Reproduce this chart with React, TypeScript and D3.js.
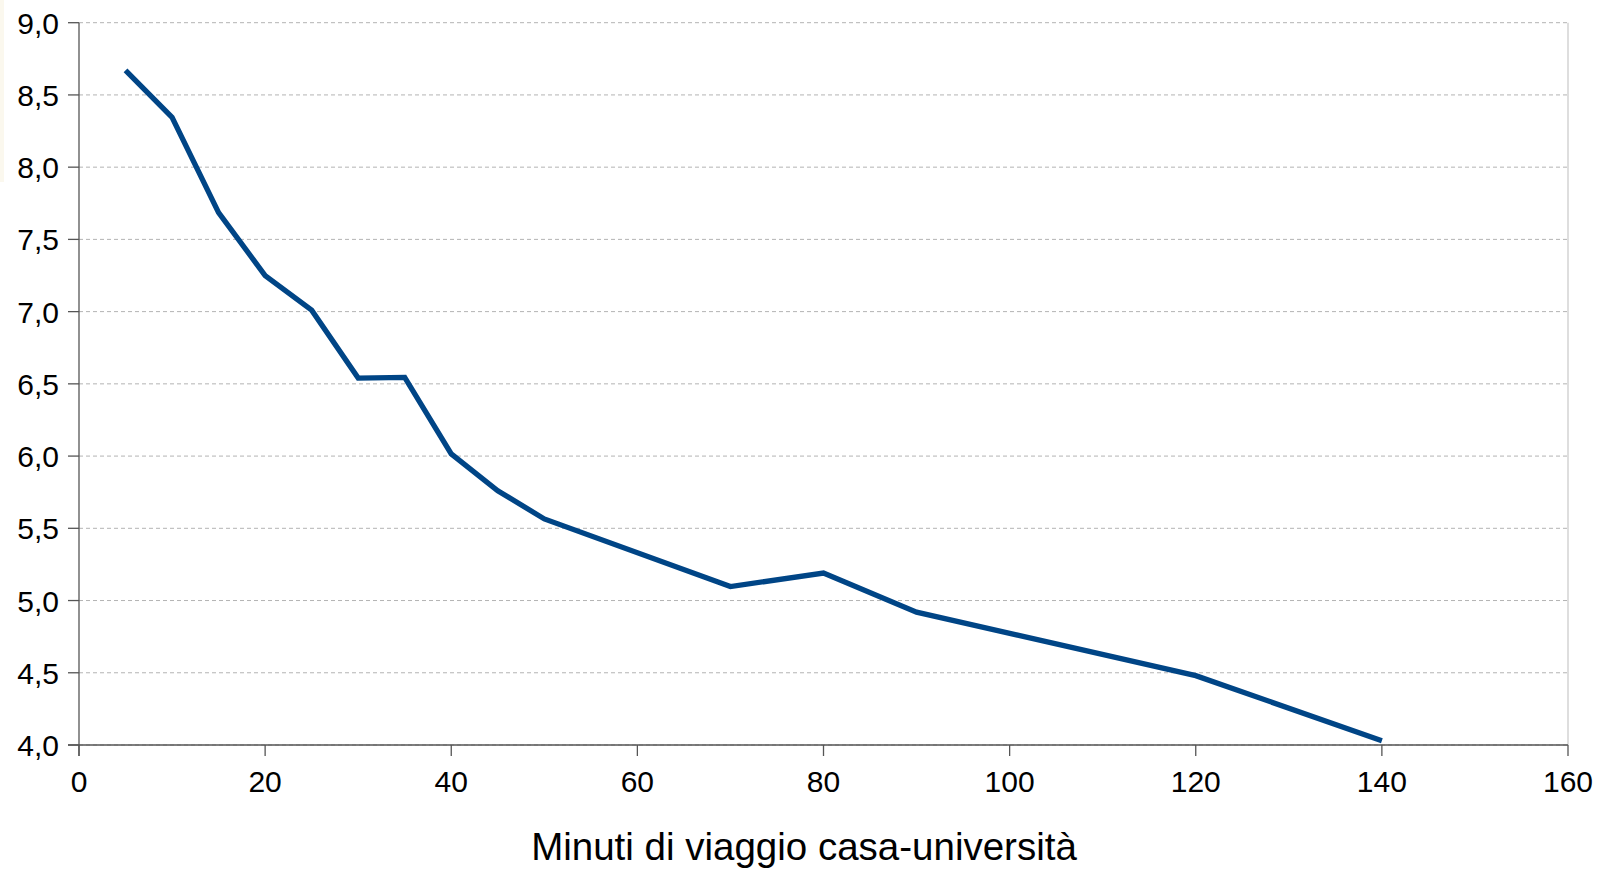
import React from "react";
import * as d3 from "d3";

const minutes = [5, 10, 15, 20, 25, 30, 35, 40, 45, 50, 70, 80, 90, 120, 140];
const values = [8.67, 8.345, 7.685, 7.25, 7.01, 6.54, 6.545, 6.015, 5.76, 5.565, 5.097, 5.19, 4.92, 4.48, 4.03];
const xTicks = [0, 20, 40, 60, 80, 100, 120, 140, 160];
const yTicks = [4, 4.5, 5, 5.5, 6, 6.5, 7, 7.5, 8, 8.5, 9];
const xTitle = "Minuti di viaggio casa-università";

const W = 1600;
const H = 870;
const left = 79;
const right = 1568;
const top = 22.7;
const bottom = 745;
const FONT = "'Liberation Sans', Arial, sans-serif";

export default function App() {
  const x = d3.scaleLinear().domain([0, 160]).range([left, right]);
  const y = d3.scaleLinear().domain([4, 9]).range([bottom, top]);
  const line = d3
    .line<number>()
    .x((_, i) => x(minutes[i]))
    .y((d) => y(d));
  const fmt = (v: number) => v.toFixed(1).replace(".", ",");

  return (
    <svg
      width={W}
      height={H}
      style={{ position: "absolute", left: 0, top: 0, display: "block", background: "#fff" }}
      fontFamily={FONT}
    >
      <rect x={0} y={0} width={W} height={H} fill="#ffffff" />
      <rect x={0} y={0} width={4} height={182} fill="#fbf8ee" />
      {yTicks.map((t) => (
        <line
          key={"g" + t}
          x1={left}
          x2={right}
          y1={y(t)}
          y2={y(t)}
          stroke="#b3b3b3"
          strokeWidth={1}
          strokeDasharray="4,3"
        />
      ))}
      <line x1={right} x2={right} y1={top} y2={bottom} stroke="#c8c8c8" strokeWidth={1.2} />
      {/* axes */}
      <line x1={left} x2={left} y1={top} y2={bottom + 11} stroke="#555" strokeWidth={1.3} />
      <line x1={left - 11} x2={right} y1={bottom} y2={bottom} stroke="#555" strokeWidth={1.3} />
      {yTicks.map((t) => (
        <g key={"y" + t}>
          <line x1={left - 11} x2={left} y1={y(t)} y2={y(t)} stroke="#555" strokeWidth={1.3} />
          <text x={left - 20} y={y(t) + 11} textAnchor="end" fontSize={30} fill="#000">
            {fmt(t)}
          </text>
        </g>
      ))}
      {xTicks.map((t) => (
        <g key={"x" + t}>
          <line x1={x(t)} x2={x(t)} y1={bottom} y2={bottom + 11} stroke="#555" strokeWidth={1.3} />
          <text x={x(t)} y={792} textAnchor="middle" fontSize={30} fill="#000">
            {t}
          </text>
        </g>
      ))}
      <path
        d={line(values) || ""}
        fill="none"
        stroke="#004586"
        strokeWidth={5.3}
        strokeLinejoin="miter"
        strokeLinecap="butt"
      />
      <text x={804} y={860} textAnchor="middle" fontSize={38.5} fill="#000">
        {xTitle}
      </text>
    </svg>
  );
}
